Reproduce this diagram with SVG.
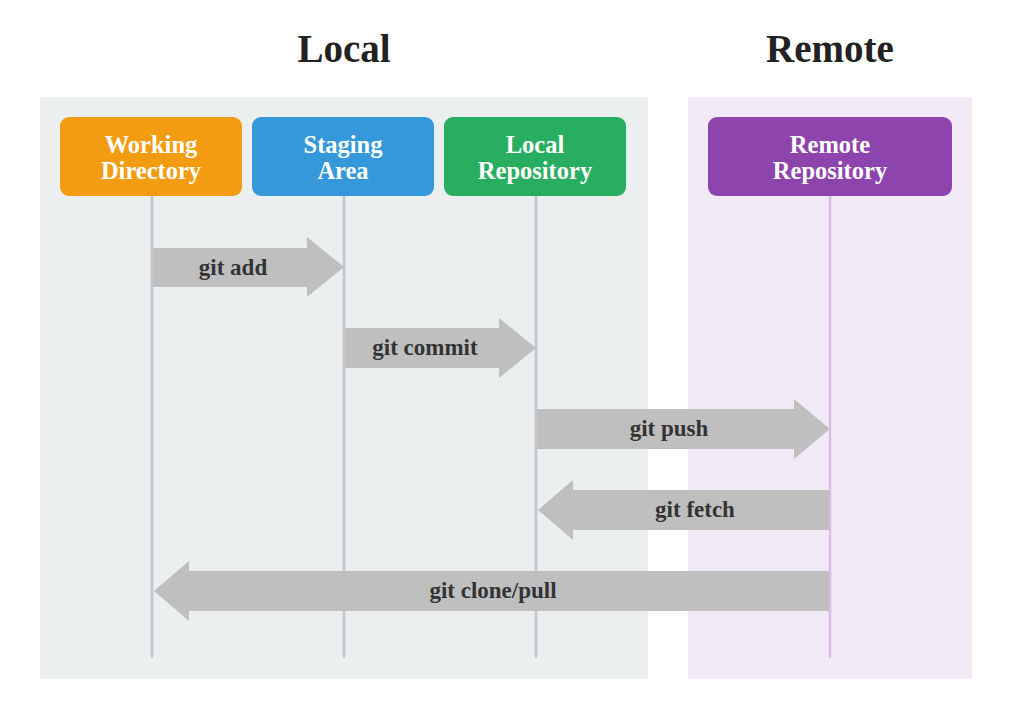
<svg xmlns="http://www.w3.org/2000/svg" width="1012" height="719" viewBox="0 0 1012 719">
<style>
text{font-family:"Liberation Serif","DejaVu Serif",serif;font-weight:bold;text-anchor:middle}
.title{font-size:39px;fill:#222}
.box{font-size:24.5px;fill:#fff}
.lbl{font-size:23px;fill:#333}
.life{stroke:#c1c5c9;stroke-width:2.5}
.arrow{fill:#bfbfbf}
</style>
<rect width="1012" height="719" fill="#fff"/>
<g id="panels">
<rect x="40" y="97" width="608" height="582" fill="#ebeff0"/>
<rect x="688" y="97" width="284" height="582" fill="#f3eaf7"/>
<text class="title" x="344" y="62">Local</text>
<text class="title" x="830" y="62">Remote</text>
</g>
<g id="lifelines">
<line class="life" x1="152" y1="196" x2="152" y2="658"/>
<line class="life" x1="344" y1="196" x2="344" y2="658"/>
<line class="life" x1="536" y1="196" x2="536" y2="658"/>
<line x1="830" y1="196" x2="830" y2="658" stroke="#d8bce6" stroke-width="2.5"/>
</g>
<g id="working-directory">
<rect x="60" y="117" width="182" height="79" rx="9" fill="#f39c12"/>
<text class="box" x="151" y="153">Working</text>
<text class="box" x="151" y="179">Directory</text>
</g>
<g id="staging-area">
<rect x="252" y="117" width="182" height="79" rx="9" fill="#3598db"/>
<text class="box" x="343" y="153">Staging</text>
<text class="box" x="343" y="179">Area</text>
</g>
<g id="local-repository">
<rect x="444" y="117" width="182" height="79" rx="9" fill="#27ae60"/>
<text class="box" x="535" y="153">Local</text>
<text class="box" x="535" y="179">Repository</text>
</g>
<g id="remote-repository">
<rect x="708" y="117" width="244" height="79" rx="9" fill="#8e44ad"/>
<text class="box" x="830" y="153">Remote</text>
<text class="box" x="830" y="179">Repository</text>
</g>
<g id="connectors">
<g id="git-add">
<polygon class="arrow" points="153,248 307,248 307,237 344,267 307,297 307,287 153,287"/>
<text class="lbl" x="233" y="275">git add</text>
</g>
<g id="git-commit">
<polygon class="arrow" points="345,328 499,328 499,318 536,348 499,378 499,368 345,368"/>
<text class="lbl" x="425" y="355">git commit</text>
</g>
<g id="git-push">
<polygon class="arrow" points="537,409 794,409 794,399 830,429 794,459 794,449 537,449"/>
<text class="lbl" x="669" y="436">git push</text>
</g>
<g id="git-fetch">
<polygon class="arrow" points="829,490 573,490 573,480 538,510 573,540 573,530 829,530"/>
<text class="lbl" x="695" y="517">git fetch</text>
</g>
<g id="git-clone-pull">
<polygon class="arrow" points="829,571 189,571 189,561 154,591 189,621 189,611 829,611"/>
<text class="lbl" x="493" y="598">git clone/pull</text>
</g>
</g>
</svg>
